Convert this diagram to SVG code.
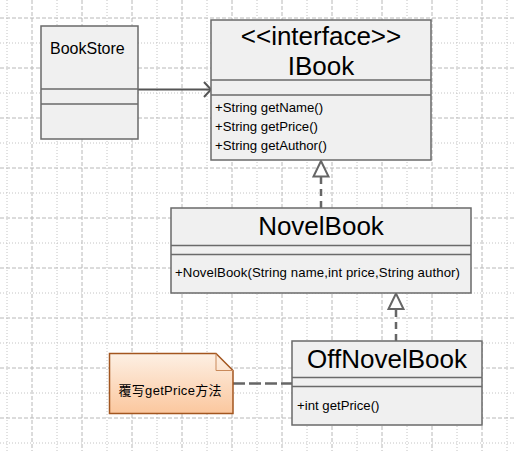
<svg xmlns="http://www.w3.org/2000/svg" width="514" height="451" viewBox="0 0 514 451">
<style>
.major{stroke:#b8b8b8;stroke-width:1;stroke-dasharray:4,2;fill:none}
.minor{stroke:#c4c4c4;stroke-width:1;stroke-dasharray:1,2;fill:none}
.box{fill:#f0f0f0;stroke:#6a6a6a;stroke-width:1.5}
.div{stroke:#6a6a6a;stroke-width:1.5}
.title{font-family:"Liberation Sans",Arial,sans-serif;font-size:26px;fill:#000;text-anchor:middle}
.name{font-family:"Liberation Sans",Arial,sans-serif;font-size:16px;fill:#000}
.op{font-family:"Liberation Sans",Arial,sans-serif;font-size:13.2px;fill:#000}
.note{font-family:"Liberation Sans","Noto Sans CJK SC",sans-serif;font-size:13px;fill:#000;text-anchor:middle}
.dash{stroke:#666;stroke-width:2.5;fill:none;stroke-dasharray:7,5}
.solid{stroke:#555;stroke-width:2;fill:none}
.tri{fill:#fff;stroke:#666;stroke-width:2}
</style>
<defs>
<linearGradient id="ng" x1="0" y1="0" x2="0" y2="1">
<stop offset="0" stop-color="#fdf0e4"/>
<stop offset="1" stop-color="#fbc79e"/>
</linearGradient>
</defs>
<rect x="0" y="0" width="514" height="451" fill="#fff"/>
<g id="grid">
<path class="minor" d="M7 0V451M57 0V451M107 0V451M157 0V451M207 0V451M257 0V451M307 0V451M357 0V451M407 0V451M457 0V451M507 0V451"/>
<path class="major" d="M32 0V451M82 0V451M132 0V451M182 0V451M232 0V451M282 0V451M332 0V451M382 0V451M432 0V451M482 0V451"/>
<path class="minor" d="M0 43H514M0 93H514M0 143H514M0 193H514M0 243H514M0 293H514M0 343H514M0 393H514M0 443H514"/>
<path class="major" d="M0 18H514M0 68H514M0 118H514M0 168H514M0 218H514M0 268H514M0 318H514M0 368H514M0 418H514"/>
</g>
<g id="connectors">
<line class="solid" x1="138" y1="89.5" x2="210" y2="89.5"/>
<polyline class="solid" points="204,82 211,89.5 204,97"/>
<line class="dash" x1="321" y1="208" x2="321" y2="177"/>
<polygon class="tri" points="321,161 313.5,176.5 328.5,176.5"/>
<line class="dash" x1="396" y1="341" x2="396" y2="309"/>
<polygon class="tri" points="396,293.5 388.5,309 403.5,309"/>
<line class="dash" x1="233" y1="383.5" x2="292" y2="383.5" style="stroke-dasharray:12,4"/>
</g>
<g id="BookStore">
<rect class="box" x="41" y="26" width="97" height="113"/>
<line class="div" x1="41" y1="89" x2="138" y2="89"/>
<line class="div" x1="41" y1="104" x2="138" y2="104"/>
<text class="name" x="50" y="54">BookStore</text>
</g>
<g id="IBook">
<rect class="box" x="211" y="20" width="220" height="140"/>
<line class="div" x1="211" y1="80" x2="431" y2="80"/>
<line class="div" x1="211" y1="95" x2="431" y2="95"/>
<text class="title" x="321" y="45">&lt;&lt;interface&gt;&gt;</text>
<text class="title" x="321" y="75">IBook</text>
<text class="op" x="215" y="112">+String getName()</text>
<text class="op" x="215" y="131">+String getPrice()</text>
<text class="op" x="215" y="150">+String getAuthor()</text>
</g>
<g id="NovelBook">
<rect class="box" x="171" y="208" width="300" height="85"/>
<line class="div" x1="171" y1="245.5" x2="471" y2="245.5"/>
<line class="div" x1="171" y1="254.5" x2="471" y2="254.5"/>
<text class="title" x="321" y="235">NovelBook</text>
<text class="op" x="175" y="277" textLength="285">+NovelBook(String name,int price,String author)</text>
</g>
<g id="OffNovelBook">
<rect class="box" x="292" y="341" width="190" height="84"/>
<line class="div" x1="292" y1="377.5" x2="482" y2="377.5"/>
<line class="div" x1="292" y1="386.5" x2="482" y2="386.5"/>
<text class="title" x="387" y="368">OffNovelBook</text>
<text class="op" x="297" y="410">+int getPrice()</text>
</g>
<g id="note">
<path d="M109.5 353.5H216L233 370.5V413.5H109.5Z" fill="url(#ng)" stroke="#a3561f" stroke-width="1.5"/>
<path d="M216 353.5V370.5H233" fill="none" stroke="#c9895a" stroke-width="1"/>
<text class="note" x="170" y="395" textLength="103">覆写getPrice方法</text>
</g>
</svg>
